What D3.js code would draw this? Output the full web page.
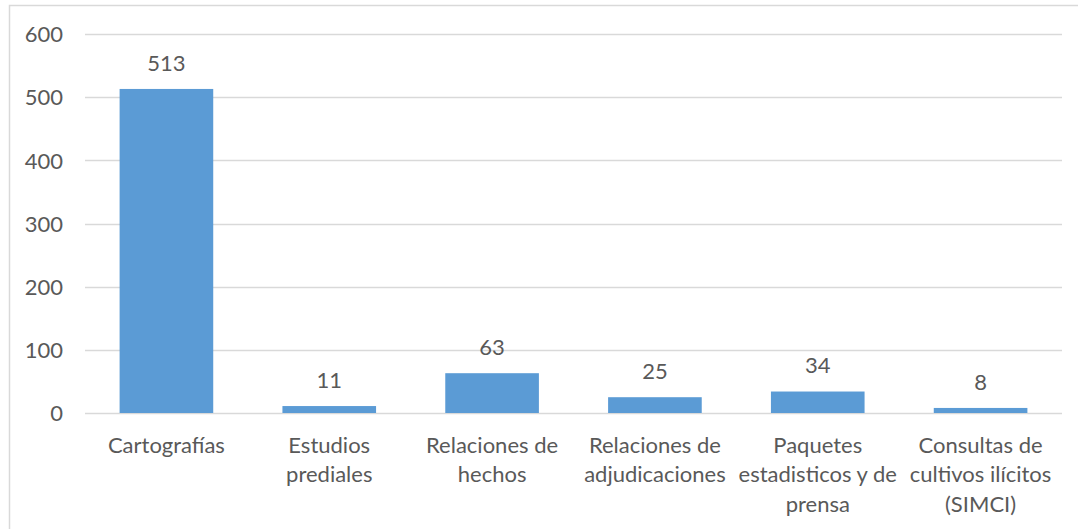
<!DOCTYPE html>
<html>
<head>
<meta charset="utf-8">
<script src="https://cdn.jsdelivr.net/npm/d3@7/dist/d3.min.js"></script>
<style>
  html, body { margin: 0; padding: 0; background: #fff; }
  svg { display: block; }
  text { font-family: "Lato", "Liberation Sans", sans-serif; fill: #595959; }
</style>
</head>
<body>
<svg id="chart" width="1078" height="529"></svg>
<script>
const categories = [
  ["Cartografías"],
  ["Estudios", "prediales"],
  ["Relaciones de", "hechos"],
  ["Relaciones de", "adjudicaciones"],
  ["Paquetes", "estadisticos y de", "prensa"],
  ["Consultas de", "cultivos ilícitos", "(SIMCI)"]
];
const values = [513, 11, 63, 25, 34, 8];
const yTicks = [0, 100, 200, 300, 400, 500, 600];

const svg = d3.select("#chart");
const W = 1078, H = 529;
const plot = { left: 85, right: 1062, top: 34, bottom: 413 };
const FS = 22;

// outer chart border
svg.append("rect")
  .attr("x", 9.5).attr("y", 5.5)
  .attr("width", W + 10).attr("height", H + 10)
  .attr("fill", "none").attr("stroke", "#d9d9d9").attr("stroke-width", 1.5);

const x = d3.scaleBand()
  .domain(d3.range(categories.length))
  .range([plot.left, plot.right])
  .paddingInner(0.425).paddingOuter(0.2125);

const y = d3.scaleLinear().domain([0, 600]).range([plot.bottom, plot.top]);

// gridlines
svg.append("g").selectAll("line").data(yTicks).join("line")
  .attr("x1", plot.left).attr("x2", plot.right)
  .attr("y1", d => Math.round(y(d)) + 0.5).attr("y2", d => Math.round(y(d)) + 0.5)
  .attr("stroke", "#d9d9d9").attr("stroke-width", 1.3);

// y axis labels
const yAxis = d3.axisLeft(y).tickValues(yTicks).tickSize(0).tickPadding(0);
const yg = svg.append("g").attr("transform", `translate(63,0)`).call(yAxis);
yg.select(".domain").remove();
yg.selectAll("text").attr("font-size", FS).style("font-family", "Lato, sans-serif").attr("fill", "#595959").attr("dy", "0.35em");

// bars
svg.append("g").selectAll("rect").data(values).join("rect")
  .attr("x", (d, i) => x(i))
  .attr("width", x.bandwidth())
  .attr("y", d => y(d))
  .attr("height", d => y(0) - y(d))
  .attr("fill", "#5b9bd5");

// value labels
svg.append("g").selectAll("text").data(values).join("text")
  .attr("x", (d, i) => x(i) + x.bandwidth() / 2)
  .attr("y", d => y(d) - 26)
  .attr("dy", "0.35em")
  .attr("text-anchor", "middle")
  .attr("font-size", FS)
  .text(d => d);

// category labels
const xg = svg.append("g");
categories.forEach((lines, i) => {
  const t = xg.append("text")
    .attr("text-anchor", "middle")
    .attr("font-size", FS)
    .attr("x", x(i) + x.bandwidth() / 2)
    .attr("y", 445);
  lines.forEach((ln, j) => {
    t.append("tspan")
      .attr("x", x(i) + x.bandwidth() / 2)
      .attr("y", 445 + j * 29.5)
      .attr("dy", "0.35em")
      .text(ln);
  });
});
</script>
</body>
</html>
